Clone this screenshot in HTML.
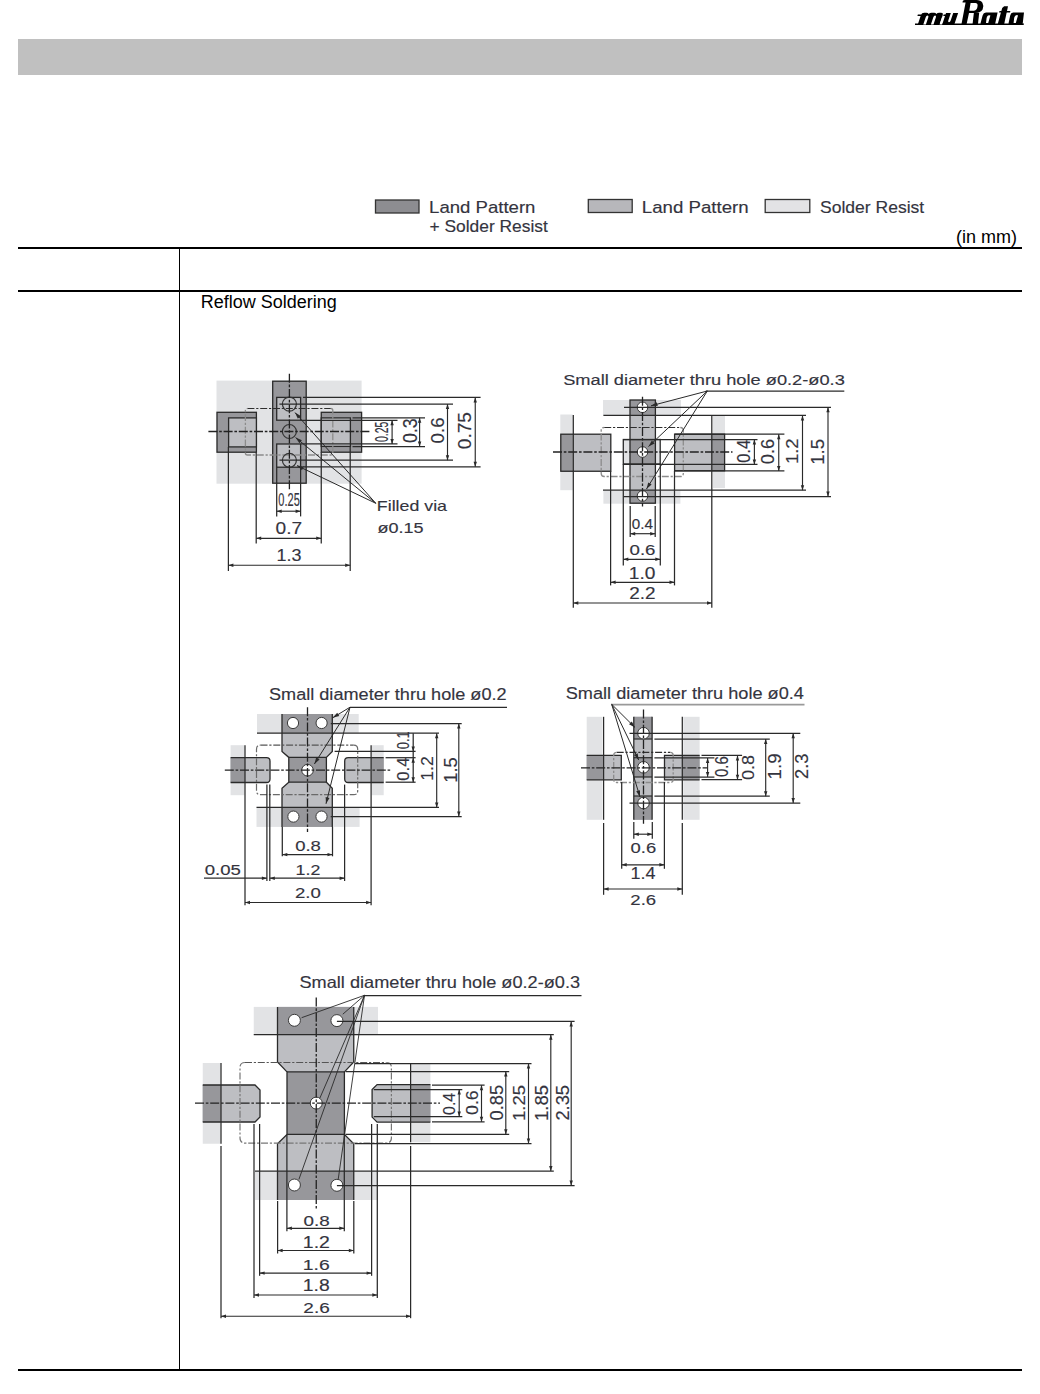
<!DOCTYPE html>
<html><head><meta charset="utf-8"><style>
html,body{margin:0;padding:0;background:#fff;}
body{width:1040px;height:1394px;position:relative;overflow:hidden;font-family:"Liberation Sans",sans-serif;}
.abs{position:absolute;}
svg text{font-family:"Liberation Sans",sans-serif;fill:#34343e;stroke:#34343e;stroke-width:0.15px;}
</style></head><body>
<div class="abs" style="left:18px;top:39px;width:1004px;height:36px;background:#c0c0c0;"></div>
<div class="abs" style="left:18px;top:247px;width:1004px;height:2px;background:#000;"></div>
<div class="abs" style="left:18px;top:290px;width:1004px;height:2px;background:#000;"></div>
<div class="abs" style="left:18px;top:1369px;width:1004px;height:2px;background:#000;"></div>
<div class="abs" style="left:179px;top:249px;width:1px;height:1120px;background:#000;"></div>
<svg class="abs" style="left:0;top:0" width="1040" height="1394" viewBox="0 0 1040 1394">
<g>
<rect x="375.50" y="200.00" width="43.50" height="13.00" fill="#8d8d91" stroke="#333" stroke-width="1.3"/>
<rect x="588.30" y="199.50" width="43.90" height="13.00" fill="#b7b7bb" stroke="#333" stroke-width="1.3"/>
<rect x="765.20" y="199.50" width="44.60" height="13.00" fill="#e3e3e5" stroke="#333" stroke-width="1.3"/>
<text x="429.08" y="212.90" font-size="16.20" textLength="106.33" lengthAdjust="spacingAndGlyphs">Land Pattern</text>
<text x="429.45" y="231.70" font-size="16.20" textLength="118.38" lengthAdjust="spacingAndGlyphs">+ Solder Resist</text>
<text x="641.77" y="212.90" font-size="16.20" textLength="106.94" lengthAdjust="spacingAndGlyphs">Land Pattern</text>
<text x="820.00" y="213.40" font-size="16.20" textLength="104.22" lengthAdjust="spacingAndGlyphs">Solder Resist</text>
</g>
<g>
<polygon points="915.00,23.40 1024.00,23.40 1023.60,25.00 915.00,25.00" fill="#000"/>
<g transform="matrix(1,0,-0.33,1,8.085,0)">
<path d="M917.8,24.5 L917.8,15.2 Q917.8,12.8 920.4,12.8 L922.6,12.8 Q924.4,12.8 925.2,14.0 Q926.0,12.8 927.8,12.8 L930.2,12.8 Q932.0,12.8 932.8,14.0 Q933.6,12.8 935.4,12.8 L937.2,12.8 Q939.6,12.8 939.6,15.2 L939.6,24.5 Z" fill="#000" fill-rule="evenodd"/>
<path d="M914.6,14.6 L918.6,14.6 L918.6,15.9 L914.6,15.9 Z" fill="#000" fill-rule="evenodd"/>
<path d="M923.3,24.5 L923.3,17.2 Q923.3,15.6 924.6,15.6 Q925.9,15.6 925.9,17.2 L925.9,24.5 Z" fill="#fff" fill-rule="evenodd"/>
<path d="M930.9,24.5 L930.9,17.2 Q930.9,15.6 932.2,15.6 Q933.5,15.6 933.5,17.2 L933.5,24.5 Z" fill="#fff" fill-rule="evenodd"/>
<path d="M939.6,24.5 L939.6,17.0 L942.2,17.0 L942.2,24.5 Z" fill="#fff" fill-rule="evenodd"/>
<path d="M940.4,14.6 L944.0,14.6 L944.0,15.9 L940.4,15.9 Z" fill="#000" fill-rule="evenodd"/>
<path d="M942.2,24.5 L942.2,12.9 L947.0,12.9 L947.0,20.6 Q947.0,22.2 948.2,22.2 Q949.4,22.2 949.4,20.6 L949.4,12.9 L954.3,12.9 L954.3,24.5 Z" fill="#000" fill-rule="evenodd"/>
</g>
<path d="M961.4,24.5 L966.5,24.5 L969.0,13.0 L975.2,13.0 Q980.5,12.8 982.6,9.5 Q984.2,6.0 982.4,2.8 Q980.6,0.1 976.5,0.1 L965.0,0.1 Q963.4,0.3 962.8,1.1 L962.5,2.5 L965.6,2.5 Z M970.6,3.1 L975.4,3.1 Q977.8,3.1 977.6,5.8 Q977.2,10.3 974.0,10.8 L969.3,10.8 Z" fill="#000" fill-rule="evenodd"/>
<polygon points="972.50,24.50 977.90,24.50 979.20,12.80 973.90,12.80" fill="#000"/>
<path d="M980.6,24.5 L995.0,24.5 L997.6,12.6 L986.0,12.6 Q983.4,12.8 982.6,15.4 L980.6,23.0 Z M986.0,23.0 L988.2,23.0 L990.4,15.6 Q989.6,15.0 988.0,15.6 Q987.0,16.4 986.6,18.0 Z" fill="#000" fill-rule="evenodd"/>
<polygon points="997.60,24.50 1004.10,24.50 1008.00,6.20 1004.20,6.20 1002.20,8.00" fill="#000"/>
<polygon points="999.50,11.00 1010.40,11.00 1010.00,12.60 999.10,12.60" fill="#000"/>
<path d="M1008.6,24.5 L1022.6,24.5 L1024.0,12.6 L1013.2,12.6 Q1010.8,12.8 1010.2,15.4 L1008.6,23.0 Z M1013.6,23.0 L1015.8,23.0 L1018.0,15.4 Q1017.2,14.8 1015.6,15.4 Q1014.6,16.2 1014.2,17.8 Z" fill="#000" fill-rule="evenodd"/>
</g>
<text x="200.8" y="307.6" font-size="18" style="fill:#000;stroke:none">Reflow Soldering</text>
<text x="1017" y="242.6" font-size="18" text-anchor="end" style="fill:#000;stroke:none">(in mm)</text>
<rect x="216.50" y="380.60" width="145.10" height="103.10" fill="#e2e3e5"/>
<rect x="217.00" y="412.30" width="39.40" height="39.90" fill="#97979b" stroke="#2a2a2a" stroke-width="1.3"/>
<rect x="228.60" y="417.90" width="27.80" height="29.00" fill="#bdbec2" stroke="#2a2a2a" stroke-width="1.3"/>
<rect x="321.25" y="412.30" width="40.35" height="39.90" fill="#97979b" stroke="#2a2a2a" stroke-width="1.3"/>
<rect x="321.25" y="417.90" width="29.15" height="28.50" fill="#bdbec2" stroke="#2a2a2a" stroke-width="1.3"/>
<rect x="272.70" y="381.20" width="33.50" height="102.00" fill="#97979b" stroke="#2a2a2a" stroke-width="1.3"/>
<rect x="276.70" y="397.40" width="23.90" height="22.80" fill="#bdbec2" stroke="#2a2a2a" stroke-width="1.3"/>
<rect x="276.70" y="444.00" width="23.90" height="23.20" fill="#bdbec2" stroke="#2a2a2a" stroke-width="1.3"/>
<path d="M247.40,408.50 H330.80" fill="none" stroke="#2e2e2e" stroke-width="1.15" stroke-dasharray="7 1.8 2.2 1.8"/>
<path d="M330.80,408.50 Q332.80,408.50 332.80,410.50 V453.00 Q332.80,455.00 330.80,455.00 H247.40 Q245.40,455.00 245.40,453.00 V410.50 Q245.40,408.50 247.40,408.50" fill="none" stroke="#8c8c8c" stroke-width="1.3" stroke-dasharray="7 1.8 2.2 1.8"/>
<circle cx="289.40" cy="404.10" r="7.00" fill="none" stroke="#333" stroke-width="1.2"/>
<circle cx="289.40" cy="431.50" r="7.00" fill="none" stroke="#333" stroke-width="1.2"/>
<circle cx="289.40" cy="460.30" r="7.00" fill="none" stroke="#333" stroke-width="1.2"/>
<line x1="289.40" y1="373.80" x2="289.40" y2="490.50" stroke="#222" stroke-width="1.3" stroke-dasharray="9 1.8 2.6 1.8"/>
<line x1="208.40" y1="431.50" x2="370.00" y2="431.50" stroke="#222" stroke-width="1.3" stroke-dasharray="9 1.8 2.6 1.8"/>
<line x1="303.00" y1="397.40" x2="480.60" y2="397.40" stroke="#2a2a2a" stroke-width="1.25"/>
<line x1="279.40" y1="404.10" x2="453.00" y2="404.10" stroke="#2a2a2a" stroke-width="1.25"/>
<line x1="352.50" y1="417.80" x2="425.00" y2="417.80" stroke="#2a2a2a" stroke-width="1.25"/>
<line x1="300.60" y1="420.30" x2="397.50" y2="420.30" stroke="#2a2a2a" stroke-width="1.25"/>
<line x1="300.60" y1="443.90" x2="397.50" y2="443.90" stroke="#2a2a2a" stroke-width="1.25"/>
<line x1="352.50" y1="446.50" x2="425.00" y2="446.50" stroke="#2a2a2a" stroke-width="1.25"/>
<line x1="279.40" y1="460.20" x2="453.00" y2="460.20" stroke="#2a2a2a" stroke-width="1.25"/>
<line x1="303.00" y1="466.80" x2="480.60" y2="466.80" stroke="#2a2a2a" stroke-width="1.25"/>
<line x1="392.10" y1="420.30" x2="392.10" y2="443.90" stroke="#2a2a2a" stroke-width="1.15"/>
<polygon points="392.10,420.30 393.80,425.30 390.40,425.30" fill="#2a2a2a"/>
<polygon points="392.10,443.90 390.40,438.90 393.80,438.90" fill="#2a2a2a"/>
<line x1="419.60" y1="417.80" x2="419.60" y2="446.50" stroke="#2a2a2a" stroke-width="1.15"/>
<polygon points="419.60,417.80 421.30,422.80 417.90,422.80" fill="#2a2a2a"/>
<polygon points="419.60,446.50 417.90,441.50 421.30,441.50" fill="#2a2a2a"/>
<line x1="447.50" y1="404.10" x2="447.50" y2="460.20" stroke="#2a2a2a" stroke-width="1.15"/>
<polygon points="447.50,404.10 449.20,409.10 445.80,409.10" fill="#2a2a2a"/>
<polygon points="447.50,460.20 445.80,455.20 449.20,455.20" fill="#2a2a2a"/>
<line x1="475.25" y1="397.40" x2="475.25" y2="466.80" stroke="#2a2a2a" stroke-width="1.15"/>
<polygon points="475.25,397.40 476.95,402.40 473.55,402.40" fill="#2a2a2a"/>
<polygon points="475.25,466.80 473.55,461.80 476.95,461.80" fill="#2a2a2a"/>
<text transform="translate(387.50,442.01) rotate(-90)" x="0" y="0" font-size="17.47" textLength="20.24" lengthAdjust="spacingAndGlyphs">0.25</text>
<text transform="translate(416.90,442.89) rotate(-90)" x="0" y="0" font-size="20.19" textLength="24.62" lengthAdjust="spacingAndGlyphs">0.3</text>
<text transform="translate(443.75,443.43) rotate(-90)" x="0" y="0" font-size="19.26" textLength="25.95" lengthAdjust="spacingAndGlyphs">0.6</text>
<text transform="translate(471.25,449.20) rotate(-90)" x="0" y="0" font-size="19.26" textLength="37.20" lengthAdjust="spacingAndGlyphs">0.75</text>
<line x1="276.70" y1="467.20" x2="276.70" y2="516.40" stroke="#2a2a2a" stroke-width="1.25"/>
<line x1="300.60" y1="467.20" x2="300.60" y2="516.40" stroke="#2a2a2a" stroke-width="1.25"/>
<line x1="256.20" y1="452.20" x2="256.20" y2="543.60" stroke="#2a2a2a" stroke-width="1.25"/>
<line x1="321.25" y1="452.20" x2="321.25" y2="543.60" stroke="#2a2a2a" stroke-width="1.25"/>
<line x1="228.40" y1="446.90" x2="228.40" y2="571.00" stroke="#2a2a2a" stroke-width="1.25"/>
<line x1="350.20" y1="446.40" x2="350.20" y2="571.00" stroke="#2a2a2a" stroke-width="1.25"/>
<line x1="276.70" y1="511.20" x2="300.60" y2="511.20" stroke="#2a2a2a" stroke-width="1.15"/>
<polygon points="276.70,511.20 281.70,509.50 281.70,512.90" fill="#2a2a2a"/>
<polygon points="300.60,511.20 295.60,512.90 295.60,509.50" fill="#2a2a2a"/>
<text x="278.37" y="506.30" font-size="17.47" textLength="21.39" lengthAdjust="spacingAndGlyphs">0.25</text>
<line x1="256.20" y1="538.30" x2="321.25" y2="538.30" stroke="#2a2a2a" stroke-width="1.15"/>
<polygon points="256.20,538.30 261.20,536.60 261.20,540.00" fill="#2a2a2a"/>
<polygon points="321.25,538.30 316.25,540.00 316.25,536.60" fill="#2a2a2a"/>
<text x="275.55" y="534.40" font-size="16.76" textLength="26.61" lengthAdjust="spacingAndGlyphs">0.7</text>
<line x1="228.40" y1="565.20" x2="350.20" y2="565.20" stroke="#2a2a2a" stroke-width="1.15"/>
<polygon points="228.40,565.20 233.40,563.50 233.40,566.90" fill="#2a2a2a"/>
<polygon points="350.20,565.20 345.20,566.90 345.20,563.50" fill="#2a2a2a"/>
<text x="276.53" y="561.30" font-size="16.04" textLength="24.96" lengthAdjust="spacingAndGlyphs">1.3</text>
<line x1="375.80" y1="503.30" x2="295.00" y2="412.60" stroke="#2a2a2a" stroke-width="1.0"/>
<polygon points="295.00,412.60 300.82,416.12 297.83,418.78" fill="#2a2a2a"/>
<line x1="375.80" y1="503.30" x2="295.60" y2="437.60" stroke="#2a2a2a" stroke-width="1.0"/>
<polygon points="295.60,437.60 301.90,440.17 299.36,443.27" fill="#2a2a2a"/>
<line x1="375.80" y1="503.30" x2="297.00" y2="465.60" stroke="#2a2a2a" stroke-width="1.0"/>
<polygon points="297.00,465.60 303.73,466.60 302.00,470.21" fill="#2a2a2a"/>
<text x="376.84" y="510.75" font-size="15.53" textLength="70.16" lengthAdjust="spacingAndGlyphs">Filled via</text>
<text x="377.41" y="532.70" font-size="15.32" textLength="46.04" lengthAdjust="spacingAndGlyphs">ø0.15</text>
<text x="563.17" y="385.20" font-size="15.46" textLength="281.63" lengthAdjust="spacingAndGlyphs">Small diameter thru hole ø0.2-ø0.3</text>
<line x1="705.80" y1="391.00" x2="844.30" y2="391.00" stroke="#2a2a2a" stroke-width="1.25"/>
<rect x="560.30" y="414.50" width="12.50" height="75.70" fill="#e2e3e5"/>
<rect x="713.00" y="416.00" width="12.00" height="72.00" fill="#e2e3e5"/>
<rect x="603.00" y="400.00" width="78.00" height="15.50" fill="#e2e3e5"/>
<rect x="603.40" y="490.70" width="77.00" height="13.00" fill="#e2e3e5"/>
<rect x="560.80" y="434.20" width="50.00" height="37.05" fill="#bdbec2"/>
<rect x="560.80" y="434.20" width="12.00" height="37.05" fill="#97979b"/>
<rect x="560.80" y="434.20" width="50.00" height="37.05" fill="none" stroke="#2a2a2a" stroke-width="1.3"/>
<rect x="674.60" y="434.20" width="50.00" height="36.60" fill="#bdbec2"/>
<rect x="711.60" y="434.20" width="13.00" height="36.60" fill="#97979b"/>
<rect x="674.60" y="434.20" width="50.00" height="36.60" fill="none" stroke="#2a2a2a" stroke-width="1.3"/>
<rect x="630.00" y="400.00" width="25.40" height="103.20" fill="#bdbec2"/>
<rect x="630.00" y="400.00" width="25.40" height="15.50" fill="#97979b"/>
<rect x="630.00" y="490.20" width="25.40" height="13.00" fill="#97979b"/>
<rect x="623.30" y="439.50" width="36.90" height="24.50" fill="#e2e3e5"/>
<rect x="630.00" y="439.50" width="25.40" height="24.50" fill="#97979b"/>
<rect x="623.30" y="439.50" width="36.90" height="24.50" fill="none" stroke="#2a2a2a" stroke-width="1.3"/>
<rect x="630.00" y="400.00" width="25.40" height="103.20" fill="none" stroke="#2a2a2a" stroke-width="1.3"/>
<path d="M604.20,427.50 H680.30" fill="none" stroke="#2e2e2e" stroke-width="1.15" stroke-dasharray="7 1.8 2.2 1.8"/>
<path d="M680.30,427.50 Q683.30,427.50 683.30,430.50 V473.50 Q683.30,476.50 680.30,476.50 H604.20 Q601.20,476.50 601.20,473.50 V430.50 Q601.20,427.50 604.20,427.50" fill="none" stroke="#8c8c8c" stroke-width="1.3" stroke-dasharray="7 1.8 2.2 1.8"/>
<circle cx="642.50" cy="407.30" r="5.30" fill="#fff" stroke="#3a3a3a" stroke-width="1.0"/>
<circle cx="642.50" cy="452.00" r="5.30" fill="#fff" stroke="#3a3a3a" stroke-width="1.0"/>
<circle cx="642.50" cy="496.00" r="5.30" fill="#fff" stroke="#3a3a3a" stroke-width="1.0"/>
<line x1="642.50" y1="396.70" x2="642.50" y2="506.50" stroke="#222" stroke-width="1.3" stroke-dasharray="9 1.8 2.6 1.8"/>
<line x1="553.00" y1="452.00" x2="732.50" y2="452.00" stroke="#222" stroke-width="1.3" stroke-dasharray="9 1.8 2.6 1.8"/>
<line x1="624.00" y1="407.30" x2="831.00" y2="407.30" stroke="#2a2a2a" stroke-width="1.25"/>
<line x1="603.40" y1="415.40" x2="806.00" y2="415.40" stroke="#2a2a2a" stroke-width="1.25"/>
<line x1="674.60" y1="434.20" x2="784.40" y2="434.20" stroke="#2a2a2a" stroke-width="1.25"/>
<line x1="623.30" y1="439.60" x2="757.50" y2="439.60" stroke="#2a2a2a" stroke-width="1.25"/>
<line x1="623.30" y1="464.40" x2="757.50" y2="464.40" stroke="#2a2a2a" stroke-width="1.25"/>
<line x1="674.60" y1="470.90" x2="784.40" y2="470.90" stroke="#2a2a2a" stroke-width="1.25"/>
<line x1="603.00" y1="490.20" x2="806.00" y2="490.20" stroke="#2a2a2a" stroke-width="1.25"/>
<line x1="623.70" y1="496.50" x2="831.00" y2="496.50" stroke="#2a2a2a" stroke-width="1.25"/>
<line x1="754.40" y1="439.60" x2="754.40" y2="464.40" stroke="#2a2a2a" stroke-width="1.15"/>
<polygon points="754.40,439.60 756.10,444.60 752.70,444.60" fill="#2a2a2a"/>
<polygon points="754.40,464.40 752.70,459.40 756.10,459.40" fill="#2a2a2a"/>
<line x1="778.75" y1="434.20" x2="778.75" y2="470.90" stroke="#2a2a2a" stroke-width="1.15"/>
<polygon points="778.75,434.20 780.45,439.20 777.05,439.20" fill="#2a2a2a"/>
<polygon points="778.75,470.90 777.05,465.90 780.45,465.90" fill="#2a2a2a"/>
<line x1="802.50" y1="415.40" x2="802.50" y2="490.20" stroke="#2a2a2a" stroke-width="1.15"/>
<polygon points="802.50,415.40 804.20,420.40 800.80,420.40" fill="#2a2a2a"/>
<polygon points="802.50,490.20 800.80,485.20 804.20,485.20" fill="#2a2a2a"/>
<line x1="828.00" y1="407.30" x2="828.00" y2="496.50" stroke="#2a2a2a" stroke-width="1.15"/>
<polygon points="828.00,407.30 829.70,412.30 826.30,412.30" fill="#2a2a2a"/>
<polygon points="828.00,496.50 826.30,491.50 829.70,491.50" fill="#2a2a2a"/>
<text transform="translate(750.00,462.85) rotate(-90)" x="0" y="0" font-size="17.47" textLength="23.03" lengthAdjust="spacingAndGlyphs">0.4</text>
<text transform="translate(774.40,464.16) rotate(-90)" x="0" y="0" font-size="18.76" textLength="25.26" lengthAdjust="spacingAndGlyphs">0.6</text>
<text transform="translate(797.50,464.11) rotate(-90)" x="0" y="0" font-size="16.61" textLength="25.74" lengthAdjust="spacingAndGlyphs">1.2</text>
<text transform="translate(823.75,464.87) rotate(-90)" x="0" y="0" font-size="18.10" textLength="25.96" lengthAdjust="spacingAndGlyphs">1.5</text>
<line x1="573.30" y1="415.00" x2="573.30" y2="607.70" stroke="#2a2a2a" stroke-width="1.25"/>
<line x1="711.80" y1="416.00" x2="711.80" y2="607.70" stroke="#2a2a2a" stroke-width="1.25"/>
<line x1="610.60" y1="471.25" x2="610.60" y2="585.40" stroke="#2a2a2a" stroke-width="1.25"/>
<line x1="674.50" y1="470.80" x2="674.50" y2="585.40" stroke="#2a2a2a" stroke-width="1.25"/>
<line x1="623.30" y1="464.00" x2="623.30" y2="565.40" stroke="#2a2a2a" stroke-width="1.25"/>
<line x1="660.30" y1="464.00" x2="660.30" y2="565.40" stroke="#2a2a2a" stroke-width="1.25"/>
<line x1="630.20" y1="506.00" x2="630.20" y2="537.00" stroke="#2a2a2a" stroke-width="1.25"/>
<line x1="655.20" y1="506.00" x2="655.20" y2="537.00" stroke="#2a2a2a" stroke-width="1.25"/>
<line x1="630.20" y1="533.70" x2="655.20" y2="533.70" stroke="#2a2a2a" stroke-width="1.15"/>
<polygon points="630.20,533.70 635.20,532.00 635.20,535.40" fill="#2a2a2a"/>
<polygon points="655.20,533.70 650.20,535.40 650.20,532.00" fill="#2a2a2a"/>
<text x="631.71" y="529.20" font-size="14.89" textLength="21.14" lengthAdjust="spacingAndGlyphs">0.4</text>
<line x1="623.30" y1="559.30" x2="660.30" y2="559.30" stroke="#2a2a2a" stroke-width="1.15"/>
<polygon points="623.30,559.30 628.30,557.60 628.30,561.00" fill="#2a2a2a"/>
<polygon points="660.30,559.30 655.30,561.00 655.30,557.60" fill="#2a2a2a"/>
<text x="629.57" y="554.60" font-size="15.04" textLength="25.95" lengthAdjust="spacingAndGlyphs">0.6</text>
<line x1="610.60" y1="582.30" x2="674.50" y2="582.30" stroke="#2a2a2a" stroke-width="1.15"/>
<polygon points="610.60,582.30 615.60,580.60 615.60,584.00" fill="#2a2a2a"/>
<polygon points="674.50,582.30 669.50,584.00 669.50,580.60" fill="#2a2a2a"/>
<text x="628.84" y="579.20" font-size="16.04" textLength="26.61" lengthAdjust="spacingAndGlyphs">1.0</text>
<line x1="573.30" y1="603.00" x2="712.00" y2="603.00" stroke="#2a2a2a" stroke-width="1.15"/>
<polygon points="573.30,603.00 578.30,601.30 578.30,604.70" fill="#2a2a2a"/>
<polygon points="712.00,603.00 707.00,604.70 707.00,601.30" fill="#2a2a2a"/>
<text x="629.35" y="599.20" font-size="16.04" textLength="26.30" lengthAdjust="spacingAndGlyphs">2.2</text>
<line x1="707.30" y1="391.00" x2="651.00" y2="405.80" stroke="#2a2a2a" stroke-width="1.0"/>
<polygon points="651.00,405.80 656.78,402.21 657.79,406.08" fill="#2a2a2a"/>
<line x1="707.30" y1="391.00" x2="648.50" y2="446.50" stroke="#2a2a2a" stroke-width="1.0"/>
<polygon points="648.50,446.50 651.85,440.58 654.60,443.49" fill="#2a2a2a"/>
<line x1="707.30" y1="391.00" x2="646.50" y2="489.00" stroke="#2a2a2a" stroke-width="1.0"/>
<polygon points="646.50,489.00 648.23,482.42 651.63,484.53" fill="#2a2a2a"/>
<text x="268.98" y="699.50" font-size="16.15" textLength="237.63" lengthAdjust="spacingAndGlyphs">Small diameter thru hole ø0.2</text>
<line x1="350.00" y1="707.30" x2="507.00" y2="707.30" stroke="#2a2a2a" stroke-width="1.25"/>
<rect x="230.60" y="745.20" width="13.90" height="50.00" fill="#e2e3e5"/>
<rect x="371.50" y="745.20" width="12.20" height="50.00" fill="#e2e3e5"/>
<rect x="257.00" y="714.00" width="101.70" height="19.20" fill="#e2e3e5"/>
<rect x="256.50" y="807.60" width="103.10" height="19.30" fill="#e2e3e5"/>
<polygon points="282.00,714.00 332.30,714.00 332.30,751.40 326.40,757.40 326.40,782.20 332.30,788.20 332.30,826.90 282.00,826.90 282.00,788.20 288.80,782.20 288.80,757.40 282.00,751.40" fill="#bdbec2"/>
<rect x="282.00" y="714.00" width="50.30" height="19.20" fill="#97979b"/>
<rect x="282.00" y="807.60" width="50.30" height="19.30" fill="#97979b"/>
<rect x="288.80" y="757.40" width="37.60" height="24.80" fill="#97979b"/>
<path d="M282,714 V751.4 L288.8,757.4 V782.2 L282,788.2 V826.9" fill="none" stroke="#2a2a2a" stroke-width="1.3"/>
<path d="M332.3,714 V751.4 L326.4,757.4 V782.2 L332.3,788.2 V826.9" fill="none" stroke="#2a2a2a" stroke-width="1.3"/>
<line x1="288.80" y1="757.40" x2="326.40" y2="757.40" stroke="#2a2a2a" stroke-width="1.3"/>
<line x1="288.80" y1="782.20" x2="326.40" y2="782.20" stroke="#2a2a2a" stroke-width="1.3"/>
<path d="M230.6,757.7 H266.5 Q270,757.7 270,761.2 V779 Q270,782.5 266.5,782.5 H230.6 Z" fill="#bdbec2" stroke="none" stroke-width="1.0"/>
<rect x="230.60" y="757.70" width="14.40" height="24.80" fill="#97979b"/>
<path d="M230.6,757.7 H266.5 Q270,757.7 270,761.2 V779 Q270,782.5 266.5,782.5 H230.6" fill="none" stroke="#2a2a2a" stroke-width="1.3"/>
<path d="M383.7,757.7 H348.2 Q344.7,757.7 344.7,761.2 V779 Q344.7,782.5 348.2,782.5 H383.7 Z" fill="#bdbec2" stroke="none" stroke-width="1.0"/>
<rect x="371.20" y="757.70" width="12.50" height="24.80" fill="#97979b"/>
<path d="M383.7,757.7 H348.2 Q344.7,757.7 344.7,761.2 V779 Q344.7,782.5 348.2,782.5 H383.7" fill="none" stroke="#2a2a2a" stroke-width="1.3"/>
<path d="M260.50,745.20 H353.70" fill="none" stroke="#555" stroke-width="1.2" stroke-dasharray="7 1.8 2.2 1.8"/>
<path d="M353.70,745.20 Q357.70,745.20 357.70,749.20 V790.70 Q357.70,794.70 353.70,794.70 H260.50 Q256.50,794.70 256.50,790.70 V749.20 Q256.50,745.20 260.50,745.20" fill="none" stroke="#6a6a6a" stroke-width="1.2" stroke-dasharray="7 1.8 2.2 1.8"/>
<circle cx="293.00" cy="723.00" r="5.60" fill="#fff" stroke="#3a3a3a" stroke-width="1.0"/>
<circle cx="321.60" cy="723.00" r="5.60" fill="#fff" stroke="#3a3a3a" stroke-width="1.0"/>
<circle cx="293.40" cy="816.60" r="5.60" fill="#fff" stroke="#3a3a3a" stroke-width="1.0"/>
<circle cx="321.50" cy="816.60" r="5.60" fill="#fff" stroke="#3a3a3a" stroke-width="1.0"/>
<circle cx="307.50" cy="770.20" r="5.80" fill="#fff" stroke="#3a3a3a" stroke-width="1.0"/>
<line x1="307.50" y1="707.20" x2="307.50" y2="832.00" stroke="#222" stroke-width="1.3" stroke-dasharray="9 1.8 2.6 1.8"/>
<line x1="224.80" y1="770.20" x2="391.00" y2="770.20" stroke="#222" stroke-width="1.3" stroke-dasharray="9 1.8 2.6 1.8"/>
<line x1="330.80" y1="723.60" x2="461.70" y2="723.60" stroke="#2a2a2a" stroke-width="1.25"/>
<line x1="257.00" y1="733.20" x2="439.00" y2="733.20" stroke="#2a2a2a" stroke-width="1.25"/>
<line x1="334.60" y1="751.40" x2="415.60" y2="751.40" stroke="#2a2a2a" stroke-width="1.25"/>
<line x1="385.60" y1="757.70" x2="415.60" y2="757.70" stroke="#2a2a2a" stroke-width="1.25"/>
<line x1="385.60" y1="782.20" x2="415.60" y2="782.20" stroke="#2a2a2a" stroke-width="1.25"/>
<line x1="256.50" y1="807.40" x2="439.00" y2="807.40" stroke="#2a2a2a" stroke-width="1.25"/>
<line x1="330.70" y1="816.50" x2="461.70" y2="816.50" stroke="#2a2a2a" stroke-width="1.25"/>
<line x1="413.20" y1="733.20" x2="413.20" y2="782.20" stroke="#2a2a2a" stroke-width="1.25"/>
<polygon points="413.20,751.40 411.50,746.40 414.90,746.40" fill="#2a2a2a"/>
<polygon points="413.20,757.70 414.90,762.70 411.50,762.70" fill="#2a2a2a"/>
<polygon points="413.20,782.20 411.50,777.20 414.90,777.20" fill="#2a2a2a"/>
<line x1="436.70" y1="733.20" x2="436.70" y2="807.40" stroke="#2a2a2a" stroke-width="1.15"/>
<polygon points="436.70,733.20 438.40,738.20 435.00,738.20" fill="#2a2a2a"/>
<polygon points="436.70,807.40 435.00,802.40 438.40,802.40" fill="#2a2a2a"/>
<line x1="458.80" y1="723.60" x2="458.80" y2="816.50" stroke="#2a2a2a" stroke-width="1.15"/>
<polygon points="458.80,723.60 460.50,728.60 457.10,728.60" fill="#2a2a2a"/>
<polygon points="458.80,816.50 457.10,811.50 460.50,811.50" fill="#2a2a2a"/>
<text transform="translate(408.80,749.20) rotate(-90)" x="0" y="0" font-size="16.76" textLength="17.83" lengthAdjust="spacingAndGlyphs">0.1</text>
<text transform="translate(408.80,780.65) rotate(-90)" x="0" y="0" font-size="16.76" textLength="23.14" lengthAdjust="spacingAndGlyphs">0.4</text>
<text transform="translate(432.90,780.86) rotate(-90)" x="0" y="0" font-size="16.76" textLength="24.75" lengthAdjust="spacingAndGlyphs">1.2</text>
<text transform="translate(457.00,782.80) rotate(-90)" x="0" y="0" font-size="17.88" textLength="25.57" lengthAdjust="spacingAndGlyphs">1.5</text>
<line x1="245.00" y1="745.20" x2="245.00" y2="905.30" stroke="#2a2a2a" stroke-width="1.25"/>
<line x1="371.10" y1="745.20" x2="371.10" y2="905.30" stroke="#2a2a2a" stroke-width="1.25"/>
<line x1="266.90" y1="784.60" x2="266.90" y2="881.00" stroke="#2a2a2a" stroke-width="1.25"/>
<line x1="269.80" y1="784.60" x2="269.80" y2="881.00" stroke="#2a2a2a" stroke-width="1.25"/>
<line x1="344.60" y1="784.60" x2="344.60" y2="881.00" stroke="#2a2a2a" stroke-width="1.25"/>
<line x1="282.30" y1="826.90" x2="282.30" y2="856.30" stroke="#2a2a2a" stroke-width="1.25"/>
<line x1="332.50" y1="826.90" x2="332.50" y2="856.30" stroke="#2a2a2a" stroke-width="1.25"/>
<line x1="282.30" y1="854.60" x2="332.50" y2="854.60" stroke="#2a2a2a" stroke-width="1.15"/>
<polygon points="282.30,854.60 287.30,852.90 287.30,856.30" fill="#2a2a2a"/>
<polygon points="332.50,854.60 327.50,856.30 327.50,852.90" fill="#2a2a2a"/>
<text x="295.18" y="850.60" font-size="15.32" textLength="25.73" lengthAdjust="spacingAndGlyphs">0.8</text>
<line x1="269.80" y1="878.20" x2="344.60" y2="878.20" stroke="#2a2a2a" stroke-width="1.25"/>
<polygon points="269.80,878.20 274.80,876.50 274.80,879.90" fill="#2a2a2a"/>
<polygon points="344.60,878.20 339.60,879.90 339.60,876.50" fill="#2a2a2a"/>
<line x1="204.00" y1="878.20" x2="266.90" y2="878.20" stroke="#2a2a2a" stroke-width="1.25"/>
<polygon points="266.90,878.20 261.90,879.90 261.90,876.50" fill="#2a2a2a"/>
<text x="295.64" y="875.30" font-size="15.18" textLength="24.75" lengthAdjust="spacingAndGlyphs">1.2</text>
<text x="204.78" y="875.30" font-size="15.18" textLength="36.10" lengthAdjust="spacingAndGlyphs">0.05</text>
<line x1="245.00" y1="902.50" x2="371.10" y2="902.50" stroke="#2a2a2a" stroke-width="1.15"/>
<polygon points="245.00,902.50 250.00,900.80 250.00,904.20" fill="#2a2a2a"/>
<polygon points="371.10,902.50 366.10,904.20 366.10,900.80" fill="#2a2a2a"/>
<text x="294.96" y="898.40" font-size="15.18" textLength="25.86" lengthAdjust="spacingAndGlyphs">2.0</text>
<line x1="350.00" y1="707.20" x2="332.70" y2="717.80" stroke="#2a2a2a" stroke-width="1.0"/>
<polygon points="332.70,717.80 337.20,712.70 339.29,716.11" fill="#2a2a2a"/>
<line x1="350.00" y1="707.20" x2="314.40" y2="764.00" stroke="#2a2a2a" stroke-width="1.0"/>
<polygon points="314.40,764.00 316.16,757.43 319.55,759.55" fill="#2a2a2a"/>
<line x1="350.00" y1="707.20" x2="326.00" y2="803.80" stroke="#2a2a2a" stroke-width="1.0"/>
<polygon points="326.00,803.80 325.63,797.01 329.51,797.97" fill="#2a2a2a"/>
<text x="565.73" y="698.75" font-size="16.84" textLength="238.26" lengthAdjust="spacingAndGlyphs">Small diameter thru hole ø0.4</text>
<line x1="611.50" y1="704.60" x2="804.50" y2="704.60" stroke="#9a9a9a" stroke-width="1.7"/>
<rect x="586.70" y="716.80" width="15.90" height="103.00" fill="#e2e3e5"/>
<rect x="683.30" y="716.80" width="16.30" height="103.00" fill="#e2e3e5"/>
<rect x="586.70" y="755.30" width="34.60" height="24.50" fill="#bdbec2"/>
<rect x="586.70" y="755.30" width="16.90" height="24.50" fill="#97979b"/>
<path d="M586.7,755.3 H621.3 V779.8 H586.7" fill="none" stroke="#2a2a2a" stroke-width="1.3"/>
<rect x="664.50" y="755.30" width="35.10" height="24.50" fill="#bdbec2"/>
<rect x="682.30" y="755.30" width="17.30" height="24.50" fill="#97979b"/>
<path d="M699.6,755.3 H664.5 V779.8 H699.6" fill="none" stroke="#2a2a2a" stroke-width="1.3"/>
<rect x="633.80" y="716.80" width="18.30" height="103.00" fill="#bdbec2"/>
<rect x="633.80" y="716.80" width="18.30" height="22.20" fill="#97979b"/>
<rect x="633.80" y="757.70" width="18.30" height="19.30" fill="#97979b"/>
<rect x="633.80" y="796.00" width="18.30" height="23.80" fill="#97979b"/>
<line x1="633.80" y1="739.00" x2="652.10" y2="739.00" stroke="#2a2a2a" stroke-width="1.2"/>
<line x1="633.80" y1="757.70" x2="652.10" y2="757.70" stroke="#2a2a2a" stroke-width="1.2"/>
<line x1="633.80" y1="777.00" x2="652.10" y2="777.00" stroke="#2a2a2a" stroke-width="1.2"/>
<line x1="633.80" y1="796.00" x2="652.10" y2="796.00" stroke="#2a2a2a" stroke-width="1.2"/>
<line x1="633.80" y1="716.80" x2="633.80" y2="819.80" stroke="#2a2a2a" stroke-width="1.3"/>
<line x1="652.10" y1="716.80" x2="652.10" y2="819.80" stroke="#2a2a2a" stroke-width="1.3"/>
<path d="M616.70,752.40 H670.20" fill="none" stroke="#2e2e2e" stroke-width="1.15" stroke-dasharray="7 1.8 2.2 1.8"/>
<path d="M670.20,752.40 Q673.20,752.40 673.20,755.40 V779.50 Q673.20,782.50 670.20,782.50 H616.70 Q613.70,782.50 613.70,779.50 V755.40 Q613.70,752.40 616.70,752.40" fill="none" stroke="#8c8c8c" stroke-width="1.3" stroke-dasharray="7 1.8 2.2 1.8"/>
<circle cx="643.50" cy="733.20" r="5.80" fill="#fff" stroke="#3a3a3a" stroke-width="1.0"/>
<circle cx="643.50" cy="767.30" r="5.80" fill="#fff" stroke="#3a3a3a" stroke-width="1.0"/>
<circle cx="643.50" cy="803.00" r="5.80" fill="#fff" stroke="#3a3a3a" stroke-width="1.0"/>
<line x1="643.50" y1="709.60" x2="643.50" y2="823.80" stroke="#222" stroke-width="1.3" stroke-dasharray="9 1.8 2.6 1.8"/>
<line x1="581.00" y1="767.80" x2="707.30" y2="767.80" stroke="#222" stroke-width="1.3" stroke-dasharray="9 1.8 2.6 1.8"/>
<line x1="629.50" y1="733.30" x2="800.30" y2="733.30" stroke="#2a2a2a" stroke-width="1.25"/>
<line x1="654.40" y1="739.10" x2="769.80" y2="739.10" stroke="#2a2a2a" stroke-width="1.25"/>
<line x1="701.50" y1="755.40" x2="742.10" y2="755.40" stroke="#2a2a2a" stroke-width="1.25"/>
<line x1="654.40" y1="757.90" x2="714.40" y2="757.90" stroke="#2a2a2a" stroke-width="1.25"/>
<line x1="654.40" y1="777.00" x2="714.40" y2="777.00" stroke="#2a2a2a" stroke-width="1.25"/>
<line x1="701.50" y1="779.70" x2="742.10" y2="779.70" stroke="#2a2a2a" stroke-width="1.25"/>
<line x1="654.40" y1="796.20" x2="769.80" y2="796.20" stroke="#2a2a2a" stroke-width="1.25"/>
<line x1="629.50" y1="803.00" x2="800.30" y2="803.00" stroke="#2a2a2a" stroke-width="1.25"/>
<line x1="707.60" y1="757.90" x2="707.60" y2="777.00" stroke="#2a2a2a" stroke-width="1.15"/>
<polygon points="707.60,757.90 709.30,762.90 705.90,762.90" fill="#2a2a2a"/>
<polygon points="707.60,777.00 705.90,772.00 709.30,772.00" fill="#2a2a2a"/>
<line x1="737.50" y1="755.40" x2="737.50" y2="779.70" stroke="#2a2a2a" stroke-width="1.15"/>
<polygon points="737.50,755.40 739.20,760.40 735.80,760.40" fill="#2a2a2a"/>
<polygon points="737.50,779.70 735.80,774.70 739.20,774.70" fill="#2a2a2a"/>
<line x1="765.70" y1="739.10" x2="765.70" y2="796.20" stroke="#2a2a2a" stroke-width="1.15"/>
<polygon points="765.70,739.10 767.40,744.10 764.00,744.10" fill="#2a2a2a"/>
<polygon points="765.70,796.20 764.00,791.20 767.40,791.20" fill="#2a2a2a"/>
<line x1="793.20" y1="733.30" x2="793.20" y2="803.00" stroke="#2a2a2a" stroke-width="1.15"/>
<polygon points="793.20,733.30 794.90,738.30 791.50,738.30" fill="#2a2a2a"/>
<polygon points="793.20,803.00 791.50,798.00 794.90,798.00" fill="#2a2a2a"/>
<text transform="translate(727.70,776.99) rotate(-90)" x="0" y="0" font-size="17.76" textLength="20.84" lengthAdjust="spacingAndGlyphs">0.6</text>
<text transform="translate(754.20,780.01) rotate(-90)" x="0" y="0" font-size="17.04" textLength="25.09" lengthAdjust="spacingAndGlyphs">0.8</text>
<text transform="translate(780.70,779.53) rotate(-90)" x="0" y="0" font-size="17.76" textLength="26.12" lengthAdjust="spacingAndGlyphs">1.9</text>
<text transform="translate(808.40,779.02) rotate(-90)" x="0" y="0" font-size="18.47" textLength="25.53" lengthAdjust="spacingAndGlyphs">2.3</text>
<line x1="603.60" y1="716.80" x2="603.60" y2="819.80" stroke="#2a2a2a" stroke-width="1.25"/>
<line x1="603.60" y1="823.00" x2="603.60" y2="894.80" stroke="#2a2a2a" stroke-width="1.25"/>
<line x1="682.30" y1="716.80" x2="682.30" y2="819.80" stroke="#2a2a2a" stroke-width="1.25"/>
<line x1="682.30" y1="823.00" x2="682.30" y2="894.80" stroke="#2a2a2a" stroke-width="1.25"/>
<line x1="621.70" y1="782.00" x2="621.70" y2="868.80" stroke="#2a2a2a" stroke-width="1.25"/>
<line x1="664.40" y1="782.00" x2="664.40" y2="868.80" stroke="#2a2a2a" stroke-width="1.25"/>
<line x1="633.80" y1="822.00" x2="633.80" y2="838.80" stroke="#2a2a2a" stroke-width="1.25"/>
<line x1="652.30" y1="822.00" x2="652.30" y2="838.80" stroke="#2a2a2a" stroke-width="1.25"/>
<line x1="633.80" y1="834.20" x2="652.30" y2="834.20" stroke="#2a2a2a" stroke-width="1.15"/>
<polygon points="633.80,834.20 638.80,832.50 638.80,835.90" fill="#2a2a2a"/>
<polygon points="652.30,834.20 647.30,835.90 647.30,832.50" fill="#2a2a2a"/>
<text x="630.58" y="852.70" font-size="15.32" textLength="25.63" lengthAdjust="spacingAndGlyphs">0.6</text>
<line x1="621.70" y1="864.80" x2="664.40" y2="864.80" stroke="#2a2a2a" stroke-width="1.15"/>
<polygon points="621.70,864.80 626.70,863.10 626.70,866.50" fill="#2a2a2a"/>
<polygon points="664.40,864.80 659.40,866.50 659.40,863.10" fill="#2a2a2a"/>
<text x="630.43" y="878.60" font-size="16.42" textLength="25.00" lengthAdjust="spacingAndGlyphs">1.4</text>
<line x1="603.60" y1="889.00" x2="682.30" y2="889.00" stroke="#2a2a2a" stroke-width="1.15"/>
<polygon points="603.60,889.00 608.60,887.30 608.60,890.70" fill="#2a2a2a"/>
<polygon points="682.30,889.00 677.30,890.70 677.30,887.30" fill="#2a2a2a"/>
<text x="630.36" y="904.60" font-size="15.32" textLength="25.85" lengthAdjust="spacingAndGlyphs">2.6</text>
<line x1="611.70" y1="704.30" x2="635.00" y2="727.50" stroke="#2a2a2a" stroke-width="1.0"/>
<polygon points="635.00,727.50 628.98,724.33 631.81,721.50" fill="#2a2a2a"/>
<line x1="611.70" y1="704.30" x2="638.70" y2="760.00" stroke="#2a2a2a" stroke-width="1.0"/>
<polygon points="638.70,760.00 634.07,755.02 637.66,753.28" fill="#2a2a2a"/>
<line x1="611.70" y1="704.30" x2="640.00" y2="797.00" stroke="#2a2a2a" stroke-width="1.0"/>
<polygon points="640.00,797.00 636.19,791.37 640.01,790.20" fill="#2a2a2a"/>
<text x="299.48" y="988.00" font-size="16.28" textLength="280.62" lengthAdjust="spacingAndGlyphs">Small diameter thru hole ø0.2-ø0.3</text>
<line x1="363.50" y1="995.70" x2="581.50" y2="995.70" stroke="#2a2a2a" stroke-width="1.25"/>
<rect x="202.75" y="1063.00" width="17.75" height="80.75" fill="#e2e3e5"/>
<rect x="411.00" y="1063.80" width="19.40" height="78.50" fill="#e2e3e5"/>
<rect x="253.75" y="1006.90" width="124.25" height="28.10" fill="#e2e3e5"/>
<rect x="255.00" y="1171.50" width="123.00" height="28.50" fill="#e2e3e5"/>
<polygon points="277.50,1006.90 353.75,1006.90 353.75,1062.00 344.40,1071.90 344.40,1134.40 353.75,1143.75 353.75,1200.00 277.50,1200.00 277.50,1143.75 287.00,1134.40 287.00,1071.90 277.50,1062.00" fill="#bdbec2"/>
<rect x="277.50" y="1006.90" width="76.25" height="27.70" fill="#97979b"/>
<rect x="277.50" y="1171.30" width="76.25" height="28.70" fill="#97979b"/>
<rect x="287.00" y="1071.90" width="57.40" height="62.50" fill="#97979b"/>
<path d="M277.5,1006.9 V1062 L287,1071.9 V1134.4 L277.5,1143.75 V1200" fill="none" stroke="#2a2a2a" stroke-width="1.3"/>
<path d="M353.75,1006.9 V1062 L344.4,1071.9 V1134.4 L353.75,1143.75 V1200" fill="none" stroke="#2a2a2a" stroke-width="1.3"/>
<line x1="287.00" y1="1071.90" x2="344.40" y2="1071.90" stroke="#2a2a2a" stroke-width="1.3"/>
<line x1="287.00" y1="1134.40" x2="344.40" y2="1134.40" stroke="#2a2a2a" stroke-width="1.3"/>
<path d="M202.75,1085 H255 L260,1090 V1117 L255,1122 H202.75" fill="#bdbec2" stroke="none" stroke-width="1.0"/>
<rect x="202.75" y="1085.00" width="18.15" height="37.00" fill="#97979b"/>
<path d="M202.75,1085 H255 L260,1090 V1117 L255,1122 H202.75" fill="none" stroke="#2a2a2a" stroke-width="1.3"/>
<path d="M430.4,1084.6 H377.1 L372.1,1089.6 V1117.1 L377.1,1122.1 H430.4" fill="#bdbec2" stroke="none" stroke-width="1.0"/>
<rect x="410.75" y="1084.60" width="19.65" height="37.50" fill="#97979b"/>
<path d="M430.4,1084.6 H377.1 L372.1,1089.6 V1117.1 L377.1,1122.1 H430.4" fill="none" stroke="#2a2a2a" stroke-width="1.3"/>
<path d="M245.00,1062.50 H386.40" fill="none" stroke="#555" stroke-width="1.2" stroke-dasharray="7 1.8 2.2 1.8"/>
<path d="M386.40,1062.50 Q391.40,1062.50 391.40,1067.50 V1138.10 Q391.40,1143.10 386.40,1143.10 H245.00 Q240.00,1143.10 240.00,1138.10 V1067.50 Q240.00,1062.50 245.00,1062.50" fill="none" stroke="#777" stroke-width="1.2" stroke-dasharray="7 1.8 2.2 1.8"/>
<circle cx="294.40" cy="1020.30" r="6.00" fill="#fff" stroke="#3a3a3a" stroke-width="1.0"/>
<circle cx="336.90" cy="1020.60" r="6.00" fill="#fff" stroke="#3a3a3a" stroke-width="1.0"/>
<circle cx="294.40" cy="1185.00" r="6.00" fill="#fff" stroke="#3a3a3a" stroke-width="1.0"/>
<circle cx="336.90" cy="1185.30" r="6.00" fill="#fff" stroke="#3a3a3a" stroke-width="1.0"/>
<circle cx="316.25" cy="1103.10" r="6.00" fill="#fff" stroke="#3a3a3a" stroke-width="1.0"/>
<line x1="316.25" y1="997.50" x2="316.25" y2="1209.40" stroke="#222" stroke-width="1.3" stroke-dasharray="9 1.8 2.6 1.8"/>
<line x1="195.00" y1="1103.10" x2="440.00" y2="1103.10" stroke="#222" stroke-width="1.3" stroke-dasharray="9 1.8 2.6 1.8"/>
<line x1="336.90" y1="1021.40" x2="574.60" y2="1021.40" stroke="#2a2a2a" stroke-width="1.25"/>
<line x1="253.75" y1="1034.70" x2="553.80" y2="1034.70" stroke="#2a2a2a" stroke-width="1.25"/>
<line x1="355.00" y1="1063.50" x2="531.50" y2="1063.50" stroke="#2a2a2a" stroke-width="1.25"/>
<line x1="345.60" y1="1071.50" x2="509.20" y2="1071.50" stroke="#2a2a2a" stroke-width="1.25"/>
<line x1="432.00" y1="1085.20" x2="484.60" y2="1085.20" stroke="#2a2a2a" stroke-width="1.25"/>
<line x1="373.80" y1="1089.50" x2="462.30" y2="1089.50" stroke="#2a2a2a" stroke-width="1.25"/>
<line x1="373.80" y1="1116.60" x2="462.30" y2="1116.60" stroke="#2a2a2a" stroke-width="1.25"/>
<line x1="432.00" y1="1121.80" x2="484.60" y2="1121.80" stroke="#2a2a2a" stroke-width="1.25"/>
<line x1="345.60" y1="1134.30" x2="509.20" y2="1134.30" stroke="#2a2a2a" stroke-width="1.25"/>
<line x1="355.00" y1="1143.50" x2="531.50" y2="1143.50" stroke="#2a2a2a" stroke-width="1.25"/>
<line x1="255.00" y1="1171.10" x2="553.80" y2="1171.10" stroke="#2a2a2a" stroke-width="1.25"/>
<line x1="336.90" y1="1185.60" x2="574.60" y2="1185.60" stroke="#2a2a2a" stroke-width="1.25"/>
<line x1="459.20" y1="1089.50" x2="459.20" y2="1116.60" stroke="#2a2a2a" stroke-width="1.15"/>
<polygon points="459.20,1089.50 460.90,1094.50 457.50,1094.50" fill="#2a2a2a"/>
<polygon points="459.20,1116.60 457.50,1111.60 460.90,1111.60" fill="#2a2a2a"/>
<line x1="481.50" y1="1085.20" x2="481.50" y2="1121.80" stroke="#2a2a2a" stroke-width="1.15"/>
<polygon points="481.50,1085.20 483.20,1090.20 479.80,1090.20" fill="#2a2a2a"/>
<polygon points="481.50,1121.80 479.80,1116.80 483.20,1116.80" fill="#2a2a2a"/>
<line x1="505.80" y1="1071.50" x2="505.80" y2="1134.30" stroke="#2a2a2a" stroke-width="1.15"/>
<polygon points="505.80,1071.50 507.50,1076.50 504.10,1076.50" fill="#2a2a2a"/>
<polygon points="505.80,1134.30 504.10,1129.30 507.50,1129.30" fill="#2a2a2a"/>
<line x1="528.50" y1="1063.50" x2="528.50" y2="1143.50" stroke="#2a2a2a" stroke-width="1.15"/>
<polygon points="528.50,1063.50 530.20,1068.50 526.80,1068.50" fill="#2a2a2a"/>
<polygon points="528.50,1143.50 526.80,1138.50 530.20,1138.50" fill="#2a2a2a"/>
<line x1="550.80" y1="1034.70" x2="550.80" y2="1171.10" stroke="#2a2a2a" stroke-width="1.15"/>
<polygon points="550.80,1034.70 552.50,1039.70 549.10,1039.70" fill="#2a2a2a"/>
<polygon points="550.80,1171.10 549.10,1166.10 552.50,1166.10" fill="#2a2a2a"/>
<line x1="571.20" y1="1021.40" x2="571.20" y2="1185.60" stroke="#2a2a2a" stroke-width="1.15"/>
<polygon points="571.20,1021.40 572.90,1026.40 569.50,1026.40" fill="#2a2a2a"/>
<polygon points="571.20,1185.60 569.50,1180.60 572.90,1180.60" fill="#2a2a2a"/>
<text transform="translate(455.40,1114.92) rotate(-90)" x="0" y="0" font-size="17.33" textLength="22.09" lengthAdjust="spacingAndGlyphs">0.4</text>
<text transform="translate(477.70,1114.99) rotate(-90)" x="0" y="0" font-size="16.33" textLength="24.67" lengthAdjust="spacingAndGlyphs">0.6</text>
<text transform="translate(503.00,1120.41) rotate(-90)" x="0" y="0" font-size="18.19" textLength="35.48" lengthAdjust="spacingAndGlyphs">0.85</text>
<text transform="translate(525.40,1121.12) rotate(-90)" x="0" y="0" font-size="17.33" textLength="36.20" lengthAdjust="spacingAndGlyphs">1.25</text>
<text transform="translate(547.70,1121.12) rotate(-90)" x="0" y="0" font-size="18.33" textLength="36.20" lengthAdjust="spacingAndGlyphs">1.85</text>
<text transform="translate(568.50,1120.62) rotate(-90)" x="0" y="0" font-size="18.33" textLength="35.69" lengthAdjust="spacingAndGlyphs">2.35</text>
<line x1="221.00" y1="1063.00" x2="221.00" y2="1143.75" stroke="#2a2a2a" stroke-width="1.25"/>
<line x1="221.00" y1="1146.00" x2="221.00" y2="1318.20" stroke="#2a2a2a" stroke-width="1.25"/>
<line x1="410.60" y1="1063.75" x2="410.60" y2="1142.30" stroke="#2a2a2a" stroke-width="1.25"/>
<line x1="410.60" y1="1146.00" x2="410.60" y2="1318.20" stroke="#2a2a2a" stroke-width="1.25"/>
<line x1="254.00" y1="1124.00" x2="254.00" y2="1298.00" stroke="#2a2a2a" stroke-width="1.25"/>
<line x1="377.30" y1="1124.00" x2="377.30" y2="1298.00" stroke="#2a2a2a" stroke-width="1.25"/>
<line x1="259.60" y1="1124.00" x2="259.60" y2="1275.80" stroke="#2a2a2a" stroke-width="1.25"/>
<line x1="371.60" y1="1124.00" x2="371.60" y2="1275.80" stroke="#2a2a2a" stroke-width="1.25"/>
<line x1="277.60" y1="1201.00" x2="277.60" y2="1253.50" stroke="#2a2a2a" stroke-width="1.25"/>
<line x1="353.80" y1="1201.00" x2="353.80" y2="1253.50" stroke="#2a2a2a" stroke-width="1.25"/>
<line x1="286.90" y1="1134.40" x2="286.90" y2="1231.30" stroke="#2a2a2a" stroke-width="1.25"/>
<line x1="344.30" y1="1134.40" x2="344.30" y2="1231.30" stroke="#2a2a2a" stroke-width="1.25"/>
<line x1="286.90" y1="1228.30" x2="344.30" y2="1228.30" stroke="#2a2a2a" stroke-width="1.15"/>
<polygon points="286.90,1228.30 291.90,1226.60 291.90,1230.00" fill="#2a2a2a"/>
<polygon points="344.30,1228.30 339.30,1230.00 339.30,1226.60" fill="#2a2a2a"/>
<text x="303.57" y="1226.00" font-size="15.32" textLength="26.15" lengthAdjust="spacingAndGlyphs">0.8</text>
<line x1="277.60" y1="1250.50" x2="353.80" y2="1250.50" stroke="#2a2a2a" stroke-width="1.15"/>
<polygon points="277.60,1250.50 282.60,1248.80 282.60,1252.20" fill="#2a2a2a"/>
<polygon points="353.80,1250.50 348.80,1252.20 348.80,1248.80" fill="#2a2a2a"/>
<text x="302.82" y="1247.50" font-size="16.04" textLength="27.06" lengthAdjust="spacingAndGlyphs">1.2</text>
<line x1="259.60" y1="1273.10" x2="371.60" y2="1273.10" stroke="#2a2a2a" stroke-width="1.15"/>
<polygon points="259.60,1273.10 264.60,1271.40 264.60,1274.80" fill="#2a2a2a"/>
<polygon points="371.60,1273.10 366.60,1274.80 366.60,1271.40" fill="#2a2a2a"/>
<text x="302.82" y="1269.70" font-size="15.47" textLength="26.93" lengthAdjust="spacingAndGlyphs">1.6</text>
<line x1="254.00" y1="1295.00" x2="377.30" y2="1295.00" stroke="#2a2a2a" stroke-width="1.15"/>
<polygon points="254.00,1295.00 259.00,1293.30 259.00,1296.70" fill="#2a2a2a"/>
<polygon points="377.30,1295.00 372.30,1296.70 372.30,1293.30" fill="#2a2a2a"/>
<text x="302.83" y="1291.00" font-size="15.61" textLength="26.92" lengthAdjust="spacingAndGlyphs">1.8</text>
<line x1="221.00" y1="1316.20" x2="411.00" y2="1316.20" stroke="#2a2a2a" stroke-width="1.15"/>
<polygon points="221.00,1316.20 226.00,1314.50 226.00,1317.90" fill="#2a2a2a"/>
<polygon points="411.00,1316.20 406.00,1317.90 406.00,1314.50" fill="#2a2a2a"/>
<text x="303.35" y="1313.00" font-size="15.32" textLength="26.39" lengthAdjust="spacingAndGlyphs">2.6</text>
<line x1="364.50" y1="995.30" x2="301.60" y2="1017.70" stroke="#2a2a2a" stroke-width="0.9"/>
<line x1="364.50" y1="995.30" x2="342.80" y2="1014.20" stroke="#2a2a2a" stroke-width="0.9"/>
<line x1="364.50" y1="995.30" x2="319.70" y2="1098.50" stroke="#2a2a2a" stroke-width="0.9"/>
<line x1="364.50" y1="995.30" x2="298.90" y2="1179.40" stroke="#2a2a2a" stroke-width="0.9"/>
<line x1="364.50" y1="995.30" x2="338.20" y2="1179.40" stroke="#2a2a2a" stroke-width="0.9"/>
</svg>
</body></html>
